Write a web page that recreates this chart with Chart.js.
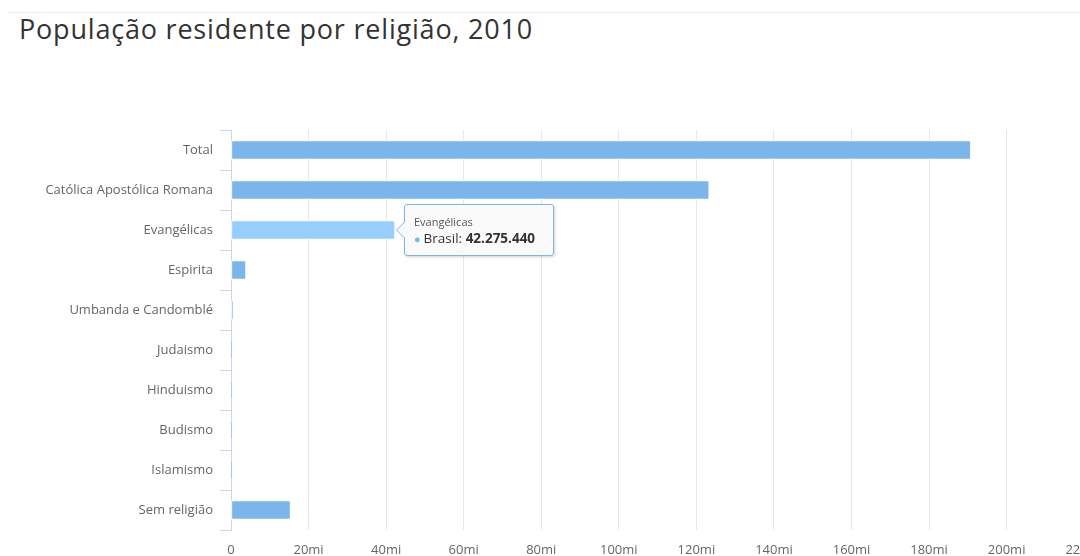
<!DOCTYPE html>
<html lang="pt-BR">
<head>
<meta charset="utf-8">
<title>População residente por religião, 2010</title>
<script src="https://cdn.jsdelivr.net/npm/chart.js@4/dist/chart.umd.min.js"></script>
<style>
    html, body { margin: 0; padding: 0; background: #fff; overflow: hidden; width: 1080px; height: 556px; }
    #topline { position: absolute; left: 8px; right: 0; top: 12px; height: 1px; background: #ececec; }
    #title { position: absolute; left: 19px; top: 10px; font: 27px "Open Sans", sans-serif; color: #333; letter-spacing: 0.8px; white-space: nowrap; }
    #wrap { position: absolute; left: 0; top: 0; width: 1115px; height: 556px; }
    #tip {
        position: absolute; pointer-events: none; box-sizing: border-box;
        background: rgba(250, 250, 250, 0.92); border: 1px solid #7cb5ec; border-radius: 3px;
        box-shadow: 1px 1px 3px rgba(0,0,0,0.18);
        padding: 9px 18px 7px 9px; font-family: "Open Sans", sans-serif; color: #333; white-space: nowrap;
    }
    #tip .t { font-size: 11px; color: #555; line-height: 15px; }
    #tip .b { font-size: 13.5px; line-height: 19px; }
    #tip .dot { color: #7cb5ec; font-size: 11px; margin-right: 3px; }
    #tip:before, #tip:after { content: ""; position: absolute; top: 50%; border-style: solid; }
    #tip:before { left: -9px; margin-top: -9px; border-width: 9px 9px 9px 0; border-color: transparent #7cb5ec transparent transparent; }
    #tip:after { left: -8px; margin-top: -8px; border-width: 8px 8px 8px 0; border-color: transparent rgba(250,250,250,1) transparent transparent; }
</style>
</head>
<body>
<div id="topline"></div>
<div id="title">População residente por religião, 2010</div>
<div id="wrap"><canvas id="chart" width="1115" height="556"></canvas></div>

<script>
// ── Data ─────────────────────────────────────────────────────
const categories = [
    "Total",
    "Católica Apostólica Romana",
    "Evangélicas",
    "Espirita",
    "Umbanda e Candomblé",
    "Judaismo",
    "Hinduismo",
    "Budismo",
    "Islamismo",
    "Sem religião"
];
const seriesName = "Brasil";
const populacao = [190755799, 123280172, 42275440, 3848876, 588797, 107329, 5675, 243966, 35167, 15335510];
const xTickValues = [0, 20, 40, 60, 80, 100, 120, 140, 160, 180, 200, 220]; // em milhões
const activeIndex = 2;

const fmtBR = n => String(n).replace(/\B(?=(\d{3})+(?!\d))/g, ".");

// ── External tooltip (mixed regular / bold text) ─────────────
const externalTip = (context) => {
    const { chart, tooltip } = context;
    let el = document.getElementById("tip");
    if (!el) {
        el = document.createElement("div");
        el.id = "tip";
        document.body.appendChild(el);
    }
    if (tooltip.opacity === 0) { el.style.opacity = 0; return; }
    const pt = tooltip.dataPoints[0];
    el.innerHTML = `<div class="t">${pt.label}</div>
        <div class="b"><span class="dot">●</span>${seriesName}: <b>${fmtBR(pt.raw)}</b></div>`;
    el.style.opacity = 1;
    const box = chart.canvas.getBoundingClientRect();
    el.style.left = (box.left + tooltip.caretX + 9) + "px";
    el.style.top = (box.top + tooltip.caretY - el.offsetHeight / 2) + "px";
};

// ── Chart ────────────────────────────────────────────────────
const ctx = document.getElementById("chart").getContext("2d");
const chart = new Chart(ctx, {
    type: "bar",
    data: {
        labels: categories,
        datasets: [{
            label: seriesName,
            data: populacao,
            backgroundColor: "#7cb5ec",
            hoverBackgroundColor: "#95ceff",
            borderColor: "#ffffff",
            hoverBorderColor: "#ffffff",
            borderWidth: 1,
            borderSkipped: false,
            barThickness: 19,
        }]
    },
    options: {
        indexAxis: "y",
        responsive: false,
        animation: false,
        layout: { padding: { top: 130, right: 10, bottom: 0, left: 0 } },
        interaction: { mode: "nearest", intersect: true, axis: "y" },
        plugins: {
            legend: { display: false },
            tooltip: { enabled: false, external: externalTip, position: "average" }
        },
        scales: {
            x: {
                min: 0,
                max: xTickValues[xTickValues.length - 1] * 1e6,
                afterBuildTicks: s => { s.ticks = xTickValues.map(v => ({ value: v * 1e6 })); },
                afterFit: s => { s.height = 26; },
                grid: { color: "#e6e6e6", drawTicks: false },
                border: { display: false },
                ticks: {
                    color: "#666",
                    padding: 12,
                    maxRotation: 0,
                    autoSkip: false,
                    font: { family: "Open Sans", size: 13 },
                    callback: v => v === 0 ? "0" : `${v / 1e6}mi`
                }
            },
            y: {
                afterFit: s => { s.width = 231; },
                grid: { drawOnChartArea: false, color: "#ccd6eb", tickLength: 11, offset: true },
                border: { color: "#ccd6eb" },
                ticks: { color: "#666", padding: 7, font: { family: "Open Sans", size: 13 } }
            }
        }
    }
});

// Show the hovered state on Evangélicas, as in the screenshot
const bar = chart.getDatasetMeta(0).data[activeIndex];
chart.setActiveElements([{ datasetIndex: 0, index: activeIndex }]);
chart.tooltip.setActiveElements([{ datasetIndex: 0, index: activeIndex }], { x: bar.x, y: bar.y });
chart.update();
</script>
</body>
</html>
